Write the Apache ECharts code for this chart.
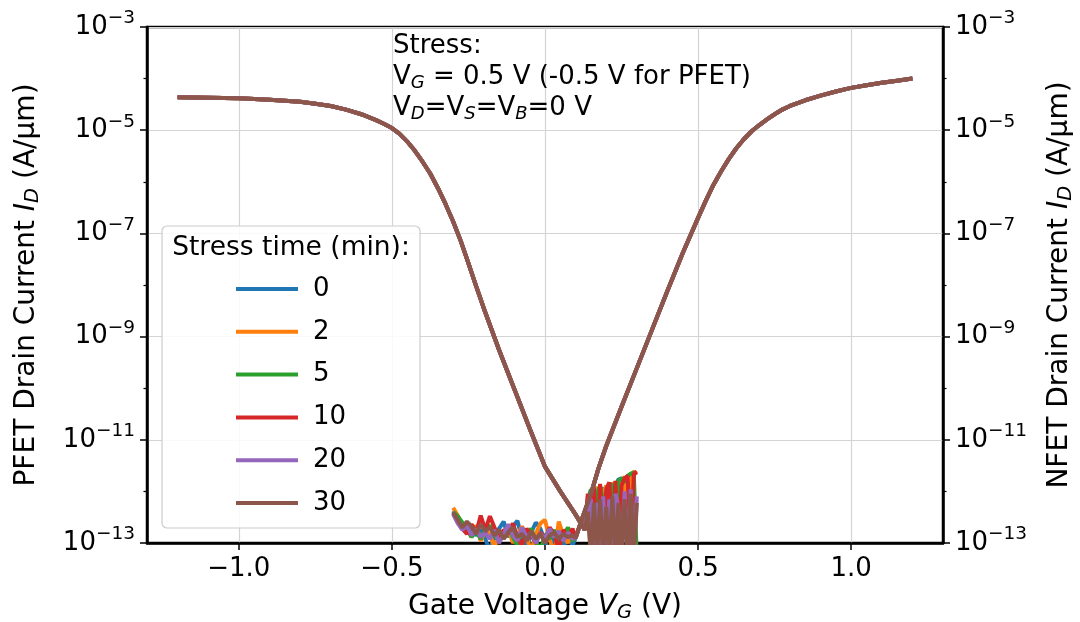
<!DOCTYPE html>
<html>
<head>
<meta charset="utf-8">
<script src="https://cdn.jsdelivr.net/npm/echarts@6/dist/echarts.min.js"></script>
<style>html,body{margin:0;padding:0;background:#fff;}#c{width:1080px;height:622px;}</style>
</head>
<body>
<div id="c"></div>
<script>
// ---------- data ----------
const stressTimes = ['0', '2', '5', '10', '20', '30'];
const colors = ['#1f77b4', '#ff7f0e', '#2ca02c', '#d62728', '#9467bd', '#8c564b'];

const xTicks = [-1.0, -0.5, 0.0, 0.5, 1.0];
const yMajorTicks = [1e-13, 1e-11, 1e-9, 1e-7, 1e-5, 1e-3];
const yMinorTicks = [1e-12, 1e-10, 1e-8, 1e-6, 1e-4];

// PFET main branch (shared by all stress times – curves overlap)
const pfetMainV = [-1.2, -1.1, -1.0, -0.9, -0.8, -0.75, -0.7, -0.65, -0.6, -0.55, -0.525, -0.5, -0.475, -0.45, -0.425, -0.4, -0.375, -0.35, -0.325, -0.3, -0.275, -0.25, -0.225, -0.2, -0.15, -0.1, -0.05, 0.0, 0.05, 0.1, 0.13];
const pfetMainI = [4.37e-5, 4.27e-5, 4.17e-5, 3.89e-5, 3.55e-5, 3.24e-5, 2.95e-5, 2.51e-5, 2.04e-5, 1.55e-5, 1.32e-5, 1.10e-5, 8.51e-6, 6.03e-6, 3.98e-6, 2.45e-6, 1.45e-6, 7.59e-7, 3.72e-7, 1.70e-7, 7.08e-8, 2.63e-8, 9.55e-9, 3.55e-9, 5.50e-10, 9.55e-11, 1.66e-11, 3.02e-12, 1.0e-12, 3.55e-13, 1.78e-13];

// PFET noisy tail (units of 1e-13 A/um)
const pfetTailV = [0.14, 0.15, 0.16, 0.17, 0.18, 0.19, 0.20, 0.21, 0.22, 0.23, 0.24, 0.25, 0.26, 0.27, 0.28, 0.29, 0.30];
const pfetTail0 = [6.0, 9.5, 3.0, 11.0, 0.5, 12.0, 8.0, 14.0, 0.5, 13.0, 17.0, 18.0, 16.0, 20.0, 21.0, 22.0, 23.0];
const pfetTail2 = [8.0, 0.5, 10.0, 12.0, 3.0, 9.0, 13.0, 0.5, 15.0, 11.0, 0.5, 17.0, 19.0, 0.6, 21.0, 24.0, 22.0];
const pfetTail5 = [7.0, 11.0, 0.5, 9.0, 13.0, 6.0, 0.5, 12.0, 14.0, 0.5, 16.0, 18.0, 15.0, 20.0, 22.0, 23.0, 0.5];
const pfetTail10 = [9.0, 0.5, 12.0, 0.5, 14.0, 0.5, 11.0, 15.0, 0.5, 16.0, 0.5, 13.0, 18.0, 20.0, 0.5, 22.0, 24.0];
const pfetTail20 = [5.0, 7.0, 0.5, 6.0, 0.5, 8.0, 0.5, 7.0, 0.5, 9.0, 5.0, 0.5, 10.0, 0.5, 11.0, 0.5, 8.0];
const pfetTail30 = [4.0, 0.5, 6.0, 0.5, 7.0, 0.5, 5.0, 0.5, 8.0, 0.5, 6.0, 0.5, 7.0, 0.5, 9.0, 0.5, 6.0];

// NFET noisy floor (units of 1e-13 A/um)
const nfetNoiseV = [-0.3, -0.285, -0.27, -0.255, -0.24, -0.225, -0.21, -0.195, -0.18, -0.165, -0.15, -0.135, -0.12, -0.105, -0.09, -0.075, -0.06, -0.045, -0.03, -0.015, 0.0, 0.015, 0.03, 0.045, 0.06, 0.075, 0.09];
const nfetNoise0 = [4.2, 3.0, 2.2, 1.6, 2.0, 1.4, 1.8, 1.2, 0.7, 1.5, 1.9, 2.6, 1.3, 2.1, 2.7, 1.2, 0.8, 1.6, 2.5, 1.9, 1.1, 0.6, 1.7, 1.3, 0.8, 1.5, 0.9];
const nfetNoise2 = [4.8, 3.4, 2.0, 1.8, 1.3, 2.2, 1.1, 1.7, 1.5, 0.8, 1.6, 1.2, 1.9, 1.0, 1.4, 2.1, 1.3, 0.7, 1.5, 2.4, 2.8, 1.2, 0.6, 2.6, 1.4, 1.0, 1.8];
const nfetNoise5 = [4.0, 3.3, 2.5, 1.9, 1.3, 1.7, 1.2, 1.8, 2.2, 1.4, 1.1, 1.6, 2.0, 1.3, 0.9, 1.7, 1.4, 1.9, 1.1, 0.7, 1.5, 1.2, 1.8, 0.8, 1.4, 2.0, 1.1];
const nfetNoise10 = [3.8, 2.6, 1.9, 1.5, 2.3, 1.6, 3.4, 1.8, 3.3, 2.0, 1.2, 1.8, 1.5, 2.4, 1.3, 0.9, 1.9, 1.4, 1.0, 1.6, 1.2, 2.0, 1.5, 0.7, 1.8, 1.3, 1.9];
const nfetNoise20 = [3.6, 2.4, 1.8, 2.2, 1.4, 1.9, 1.3, 1.6, 1.2, 1.8, 1.0, 1.5, 2.3, 1.4, 1.1, 2.0, 1.3, 1.6, 1.0, 1.5, 1.2, 1.9, 1.3, 1.7, 1.1, 1.6, 1.2];
const nfetNoise30 = [3.9, 2.8, 2.0, 2.6, 2.1, 1.5, 2.3, 1.7, 2.0, 1.4, 1.8, 1.2, 1.6, 2.0, 1.3, 1.5, 1.1, 1.7, 1.2, 1.5, 1.0, 1.4, 1.6, 1.2, 1.5, 1.3, 1.4];

// NFET main branch (shared)
const nfetMainV = [0.10, 0.12, 0.15, 0.175, 0.2, 0.25, 0.3, 0.35, 0.4, 0.45, 0.5, 0.525, 0.55, 0.575, 0.6, 0.625, 0.65, 0.675, 0.7, 0.725, 0.75, 0.775, 0.8, 0.85, 0.9, 0.95, 1.0, 1.05, 1.1, 1.15, 1.2];
const nfetMainI = [1.26e-13, 2.82e-13, 8.91e-13, 2.82e-12, 7.59e-12, 4.37e-11, 2.45e-10, 1.38e-9, 7.76e-9, 4.17e-8, 2.0e-7, 4.27e-7, 8.71e-7, 1.58e-6, 2.75e-6, 4.47e-6, 6.76e-6, 9.55e-6, 1.26e-5, 1.62e-5, 2.04e-5, 2.51e-5, 2.95e-5, 3.80e-5, 4.68e-5, 5.62e-5, 6.61e-5, 7.41e-5, 8.32e-5, 9.12e-5, 1.0e-4];

const noiseUnit = 1e-13;
const pfetTails = [pfetTail0, pfetTail2, pfetTail5, pfetTail10, pfetTail20, pfetTail30];
const nfetNoises = [nfetNoise0, nfetNoise2, nfetNoise5, nfetNoise10, nfetNoise20, nfetNoise30];

// ---------- chart ----------
const FONT = 'DejaVu Sans';
function zip(xs, ys) { return xs.map((x, i) => [x, ys[i]]); }

const series = [];
stressTimes.forEach((t, k) => {
  const common = {
    name: t, type: 'line', showSymbol: false, symbol: 'none', clip: true,
    lineStyle: { color: colors[k], width: 4 }, itemStyle: { color: colors[k] },
    emphasis: { disabled: true }, animation: false
  };
  series.push(Object.assign({}, common, {
    yAxisIndex: 0,
    data: zip(pfetMainV.concat(pfetTailV), pfetMainI.concat(pfetTails[k].map(m => m * noiseUnit)))
  }));
  series.push(Object.assign({}, common, {
    yAxisIndex: 1,
    data: zip(nfetNoiseV.concat(nfetMainV), nfetNoises[k].map(m => m * noiseUnit).concat(nfetMainI))
  }));
});

const tickRich = {
  b: { fontSize: 26, fontFamily: FONT, color: '#000' },
  e: { fontSize: 18.5, fontFamily: FONT, color: '#000', padding: [0, 0, 17, 0] }
};
function expLabel(v) {
  const e = Math.round(Math.log10(v));
  return '{b|10}{e|' + (e < 0 ? '\u2212' : '') + Math.abs(e) + '}';
}
const nameRich = {
  n: { fontSize: 28, fontFamily: FONT, color: '#000' },
  i: { fontSize: 28, fontFamily: FONT, color: '#000', fontStyle: 'italic' },
  s: { fontSize: 19.5, fontFamily: FONT, color: '#000', fontStyle: 'italic', padding: [13, 0, 0, 0] }
};

function majorY(pos, name, gap) {
  return {
    type: 'log', logBase: 10, min: 1e-13, max: 1e-3, position: pos,
    name: name, nameLocation: 'middle', nameRotate: 90, nameGap: gap,
    nameTextStyle: { fontSize: 28, fontFamily: FONT, color: '#000', rich: nameRich },
    axisLine: { show: true, onZero: false, lineStyle: { color: '#000', width: 2.5 } },
    axisTick: { show: true, length: 7, customValues: yMajorTicks, lineStyle: { color: '#000', width: 1.5 } },
    axisLabel: { show: true, customValues: yMajorTicks, formatter: expLabel, rich: tickRich, margin: 12 },
    splitLine: { show: pos === 'left', lineStyle: { color: '#d4d4d4', width: 1.2 } },
    minorTick: { show: false }, minorSplitLine: { show: false }
  };
}
function minorY(pos) {
  return {
    type: 'log', logBase: 10, min: 1e-13, max: 1e-3, position: pos,
    axisLine: { show: false, onZero: false },
    axisTick: { show: true, length: 3.5, customValues: yMinorTicks, lineStyle: { color: '#000', width: 1.2 } },
    axisLabel: { show: false }, splitLine: { show: false }
  };
}

const option = {
  animation: false,
  backgroundColor: '#fff',
  color: colors,
  grid: { left: 147, top: 27, width: 796, height: 516, show: true, borderColor: '#000', borderWidth: 2.5,
          containLabel: false, outerBoundsMode: 'none' },
  xAxis: {
    type: 'value', min: -1.3, max: 1.3, position: 'bottom',
    name: 'Gate Voltage {i|V}{s|G} (V)', nameLocation: 'middle', nameGap: 47,
    nameTextStyle: { fontSize: 28, fontFamily: FONT, color: '#000', rich: nameRich },
    axisLine: { show: true, onZero: false, lineStyle: { color: '#000', width: 2.5 } },
    axisTick: { show: true, length: 7, customValues: xTicks, lineStyle: { color: '#000', width: 1.5 } },
    axisLabel: {
      customValues: xTicks, fontSize: 26, fontFamily: FONT, color: '#000', margin: 13,
      formatter: v => (v < 0 ? '\u2212' : '') + Math.abs(v).toFixed(1)
    },
    splitLine: { show: true, lineStyle: { color: '#d4d4d4', width: 1.2 } }
  },
  yAxis: [
    majorY('left', 'PFET Drain Current {i|I}{s|D} (A/\u03bcm)', 104),
    majorY('right', 'NFET Drain Current {i|I}{s|D} (A/\u03bcm)', 100),
    minorY('left'),
    minorY('right')
  ],
  legend: {
    data: stressTimes, orient: 'vertical', left: 231, top: 270,
    icon: 'rect', itemWidth: 62, itemHeight: 4, itemGap: 14.8,
    textStyle: { fontSize: 26, fontFamily: FONT, color: '#000', lineHeight: 28, padding: [0, 0, 0, 10] },
    selectedMode: false, z: 10
  },
  graphic: [
    { type: 'rect', z: 8, shape: { x: 162, y: 226, width: 258, height: 302, r: 5 },
      style: { fill: 'rgba(255,255,255,0.85)', stroke: '#cccccc', lineWidth: 1.2 } },
    { type: 'text', z: 9, x: 291, y: 248,
      style: { text: 'Stress time (min):', fontSize: 26.5, fontFamily: FONT, fill: '#000', align: 'center', verticalAlign: 'middle' } },
    { type: 'text', z: 9, x: 393, y: 31,
      style: {
        text: 'Stress:\n{n|V}{s|G}{n| = 0.5 V (-0.5 V for PFET)}\n{n|V}{s|D}{n|=V}{s|S}{n|=V}{s|B}{n|=0 V}',
        fontSize: 26, fontFamily: FONT, fill: '#000', lineHeight: 31,
        rich: {
          n: { fontSize: 26, fontFamily: FONT, fill: '#000', lineHeight: 31 },
          s: { fontSize: 18, fontFamily: FONT, fill: '#000', fontStyle: 'italic', lineHeight: 31, padding: [12, 0, 0, 0] }
        }
      } }
  ],
  series: series
};

const chart = echarts.init(document.getElementById('c'), null, { renderer: 'canvas' });
chart.setOption(option);
</script>
</body>
</html>
